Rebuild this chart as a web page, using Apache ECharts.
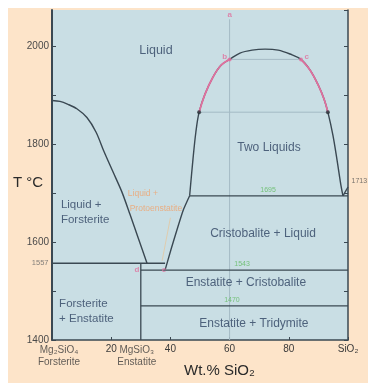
<!DOCTYPE html>
<html>
<head>
<meta charset="utf-8">
<script src="https://cdn.jsdelivr.net/npm/echarts/dist/echarts.min.js"></script>
<style>
  html, body { margin: 0; padding: 0; background: #ffffff; }
  #chart { position: absolute; left: 8px; top: 8px; width: 360px; height: 375px; }
</style>
</head>
<body>
<div id="chart"></div>
<script>
// System Mg2SiO4 - SiO2 at 0.1 MPa. Composition in wt.% SiO2 measured from forsterite (0) to silica (100).
const FONT = '"Liberation Sans", Arial, sans-serif';

const tempLabelValues = [1400, 1600, 1800, 2000];
const compTickLabels = { 20: '20', 40: '40', 60: '60', 80: '80', 100: 'SiO₂' };
const compoundNames = ['Mg₂SiO₄\nForsterite', 'MgSiO₃\nEnstatite'];
const compoundWt = [0, 30];

// Forsterite liquidus: from the Fo melting point down to the peritectic
const forsteriteLiquidus = [[0, 1890], [2.7, 1888], [5.4, 1882], [8.4, 1873], [11.8, 1855], [14.9, 1825],
  [17.6, 1785], [20.6, 1744], [23.6, 1703], [26.4, 1656], [29.1, 1609], [32.1, 1557]];
// Cristobalite liquidus: eutectic up to the monotectic
const cristobaliteLiquidus = [[38.2, 1543], [40.2, 1585], [42.2, 1625], [44.3, 1665], [46.5, 1695]];
// Solvus bounding the two-liquid field
const twoLiquidDome = [[46.5, 1695], [47.6, 1768], [48.6, 1825], [49.7, 1866], [51.7, 1903], [54.4, 1938],
  [57.1, 1962], [60, 1974], [63.5, 1987], [67.6, 1993], [72, 1995], [76.4, 1993], [80.4, 1985], [84.1, 1974],
  [87.2, 1952], [89.9, 1922], [91.9, 1893], [93.2, 1866], [94.9, 1819], [96.3, 1768], [97.6, 1717], [98.3, 1695]];
// Silica liquidus from the monotectic to the melting point of cristobalite
const silicaLiquidus = [[98.3, 1695], [100, 1713]];

// Invariant isotherms
const isothermT = [1557, 1543, 1695, 1470];
const isothermFrom = [0, 30, 46.5, 30];
const isothermTo = [38.2, 100, 100, 100];
const isothermLabelWt = [null, 64.2, 73, 60.8];

const enstatiteWt = 30;
const isoplethWt = 60;
const isoplethTop = 2056;

// Tie lines across the two-liquid field
const tieT = [1974, 1866];
const tieFrom = [60, 49.7];
const tieTo = [84.1, 93.2];

const pointNames = ['a', 'b', 'c', 'd', 'e'];
const pointAt = [[60, 2065], [60, 1974], [84.1, 1974], [28.7, 1543], [37.8, 1543]];

const silicaMeltT = 1713;

const regionNames = ['Liquid', 'Two Liquids', 'Liquid +\nForsterite', 'Forsterite\n+ Enstatite',
  'Cristobalite + Liquid', 'Enstatite + Cristobalite', 'Enstatite + Tridymite'];
const regionAt = [[35.1, 1993], [73.3, 1793], [3.0, 1661], [2.4, 1458], [71.3, 1617], [65.5, 1517], [68.2, 1433]];

const protoNames = ['Liquid +', 'Protoenstatite'];
const protoAt = [[30.7, 1699], [35.1, 1668]];
const protoPointer = [[40.0, 1650], [37.2, 1562]];

const INK = '#3a4852';
const PINK = '#e0709e';
const GREEN = '#5fba5f';
const FAINT = '#a4bac4';

function line(data, color, width, extra) {
  return Object.assign({
    type: 'line', data: data, symbol: 'none', showSymbol: false, silent: true, z: 3,
    lineStyle: { color: color, width: width }
  }, extra || {});
}

function texts(points, names, label, perItem) {
  return {
    type: 'scatter', symbolSize: 1, silent: true, clip: false, z: 8,
    itemStyle: { color: 'rgba(0,0,0,0)' },
    data: points.map((p, i) => ({ name: names[i], value: [p[0], p[1]], label: perItem ? perItem[i] : {} })),
    label: Object.assign({ show: true, formatter: p => p.name, fontFamily: FONT }, label)
  };
}

const series = [];

// faint isopleth and tie lines
series.push(line([[isoplethWt, 1400], [isoplethWt, isoplethTop]], FAINT, 1, { z: 2 }));
tieT.forEach((t, i) => series.push(line([[tieFrom[i], t], [tieTo[i], t]], FAINT, 1, { z: 2 })));
series.push(line(protoPointer, 'rgba(240,190,130,0.55)', 1, { z: 2 }));

// phase boundaries
series.push(line(forsteriteLiquidus, INK, 1.4, { smooth: 0.3 }));
series.push(line(cristobaliteLiquidus, INK, 1.4, { smooth: 0.2 }));
series.push(line(twoLiquidDome, INK, 1.4, { smooth: 0.35 }));
series.push(line(silicaLiquidus, INK, 1.4));
series.push(line([[enstatiteWt, 1400], [enstatiteWt, isothermT[0]]], INK, 1.3));
isothermT.forEach((t, i) => series.push(line([[isothermFrom[i], t], [isothermTo[i], t]], INK, 1.3)));

// highlighted parts of the solvus
const iDotL = twoLiquidDome.findIndex(p => p[0] === tieFrom[1]);
const iB = twoLiquidDome.findIndex(p => p[0] === tieFrom[0]);
const iC = twoLiquidDome.findIndex(p => p[0] === tieTo[0]);
const iDotR = twoLiquidDome.findIndex(p => p[0] === tieTo[1]);
series.push(line(twoLiquidDome.slice(iDotL, iB + 1), PINK, 1.8, { smooth: 0.35, z: 4 }));
series.push(line(twoLiquidDome.slice(iC, iDotR + 1), PINK, 1.8, { smooth: 0.35, z: 4 }));

// conjugate liquid compositions
series.push({
  type: 'scatter', silent: true, z: 5, symbolSize: 4,
  itemStyle: { color: '#2b3238' },
  data: [[tieFrom[1], tieT[1]], [tieTo[1], tieT[1]]]
});
series.push({
  type: 'scatter', silent: true, z: 5, symbolSize: 4,
  itemStyle: { color: PINK },
  data: [pointAt[1], pointAt[2]]
});

// point letters
series.push(texts(pointAt, pointNames,
  { color: PINK, fontSize: 8, fontWeight: 'bold', position: 'inside' },
  [{}, { position: 'left', distance: 2, offset: [0, -3] }, { position: 'right', distance: 3, offset: [0, -3] }, {}, {}]));

// isotherm values
const isoLabelPts = [], isoLabelTxt = [];
isothermT.forEach((t, i) => {
  if (isothermLabelWt[i] !== null) { isoLabelPts.push([isothermLabelWt[i], t]); isoLabelTxt.push(String(t)); }
});
series.push(texts(isoLabelPts, isoLabelTxt, { color: GREEN, fontSize: 7, position: 'top', distance: 2 }));
series.push(texts([[0, isothermT[0]]], [String(isothermT[0])],
  { color: '#666', fontSize: 7.5, position: 'left', distance: 3 }));
series.push(texts([[100, silicaMeltT]], [String(silicaMeltT)],
  { color: '#555', fontSize: 7, position: 'right', distance: 3, offset: [0, -6] }));

// field names
series.push(texts(regionAt, regionNames,
  { color: '#2e4261', fontSize: 12, position: 'inside', lineHeight: 15 },
  [{ fontSize: 12.5 }, {}, { align: 'left', fontSize: 11.5 }, { align: 'left', fontSize: 11.5 }, {}, {}, {}]));
series.push(texts(protoAt, protoNames, { color: '#f0a26c', fontSize: 8.5, position: 'inside' }));

// end-member names under the composition axis
series.push(texts(compoundWt.map(w => [w, 1400]), compoundNames,
  { color: '#3a3a3a', fontSize: 10, position: 'bottom', distance: 4, lineHeight: 12 },
  [{ offset: [7, 0] }, { offset: [-4, 0] }]));

const option = {
  animation: false,
  backgroundColor: '#fde4c9',
  grid: { left: 44, right: 20, top: 2, bottom: 43, show: true, backgroundColor: '#c9dee4', borderWidth: 0 },
  xAxis: {
    type: 'value', min: 0, max: 100, interval: 20,
    splitLine: { show: false },
    axisLine: { show: true, lineStyle: { color: INK, width: 1.5 } },
    axisTick: { show: true, inside: true, length: 3, lineStyle: { color: INK } },
    axisLabel: {
      color: '#3a3a3a', fontSize: 10, fontFamily: FONT, margin: 4,
      formatter: v => compTickLabels[v] || ''
    }
  },
  yAxis: [{
    type: 'value', min: 1400, max: 2075, interval: 100, position: 'left',
    splitLine: { show: false },
    axisLine: { show: true, lineStyle: { color: INK, width: 2 } },
    axisTick: { show: true, inside: true, length: 4, lineStyle: { color: INK } },
    axisLabel: {
      color: '#4a4a4a', fontSize: 10, fontFamily: FONT, margin: 3, showMaxLabel: false,
      formatter: v => tempLabelValues.indexOf(v) >= 0 ? String(v) : ''
    }
  }, {
    type: 'value', min: 1400, max: 2075, interval: 100, position: 'right',
    splitLine: { show: false },
    axisLine: { show: true, lineStyle: { color: INK, width: 1.5 } },
    axisTick: { show: true, inside: true, length: 4, lineStyle: { color: INK } },
    axisLabel: { show: false }
  }],
  graphic: [
    { type: 'text', left: 5, top: 167, style: { text: 'T °C', fill: '#2a2a2a', font: '15px ' + FONT } },
    { type: 'text', left: 176, top: 355, style: { text: 'Wt.% SiO₂', fill: '#2a2a2a', font: '15px ' + FONT } }
  ],
  series: series
};

const chart = echarts.init(document.getElementById('chart'), null, { renderer: 'canvas' });
chart.setOption(option);
</script>
</body>
</html>
